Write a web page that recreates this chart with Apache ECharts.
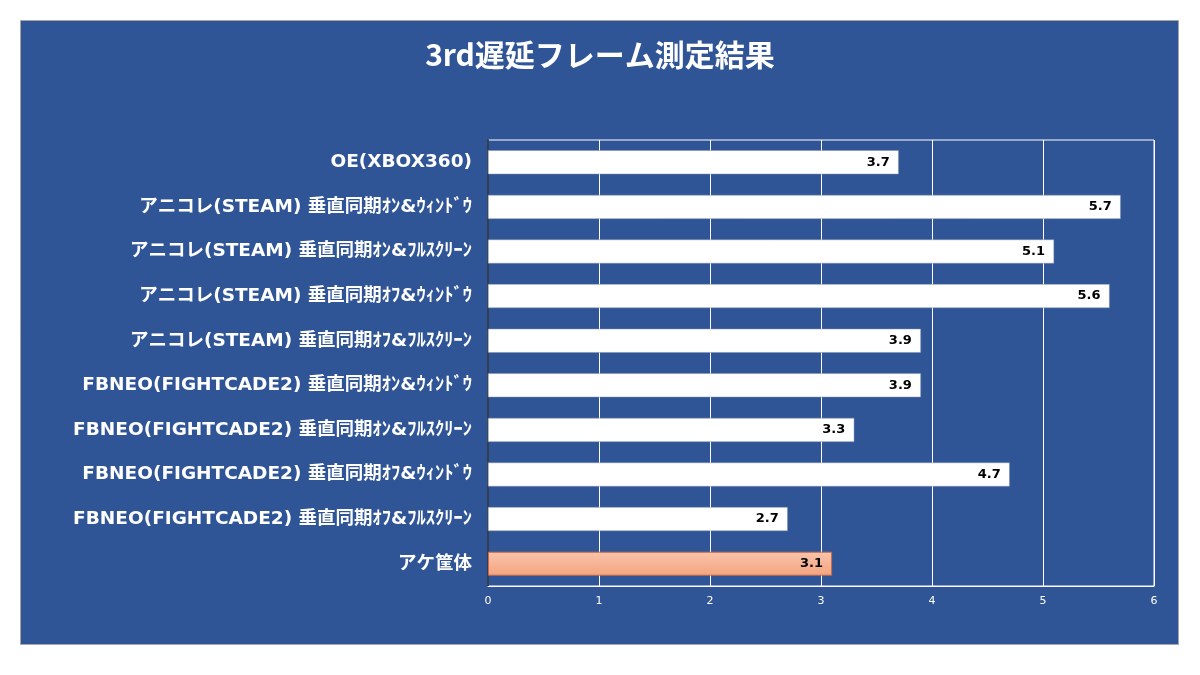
<!DOCTYPE html>
<html><head><meta charset="utf-8">
<script src="https://cdn.jsdelivr.net/npm/echarts@6/dist/echarts.min.js"></script>
<style>html,body{margin:0;padding:0;background:#fff}#c{width:1200px;height:675px}</style>
</head><body><div id="c"></div>
<script>
const titleText = '3rd遅延フレーム測定結果';
const categories = [
  'OE(XBOX360)',
  'アニコレ(STEAM) 垂直同期ｵﾝ&ｳｨﾝﾄﾞｳ',
  'アニコレ(STEAM) 垂直同期ｵﾝ&ﾌﾙｽｸﾘｰﾝ',
  'アニコレ(STEAM) 垂直同期ｵﾌ&ｳｨﾝﾄﾞｳ',
  'アニコレ(STEAM) 垂直同期ｵﾌ&ﾌﾙｽｸﾘｰﾝ',
  'FBNEO(FIGHTCADE2) 垂直同期ｵﾝ&ｳｨﾝﾄﾞｳ',
  'FBNEO(FIGHTCADE2) 垂直同期ｵﾝ&ﾌﾙｽｸﾘｰﾝ',
  'FBNEO(FIGHTCADE2) 垂直同期ｵﾌ&ｳｨﾝﾄﾞｳ',
  'FBNEO(FIGHTCADE2) 垂直同期ｵﾌ&ﾌﾙｽｸﾘｰﾝ',
  'アケ筐体'
];
const values = [3.7, 5.7, 5.1, 5.6, 3.9, 3.9, 3.3, 4.7, 2.7, 3.1];
const highlightIndex = 9;
const xTicks = [0, 1, 2, 3, 4, 5, 6];

const font = '"Noto Sans CJK JP", "Noto Sans", sans-serif';
const wideFont = '"DejaVu Sans", "Noto Sans CJK JP", sans-serif';
const chart = echarts.init(document.getElementById('c'));
const seriesData = values.map((v, i) => i === highlightIndex ? {
  value: v,
  itemStyle: {
    color: new echarts.graphic.LinearGradient(0, 0, 0, 1, [
      {offset: 0, color: '#F9C4AC'}, {offset: 1, color: '#F4A47F'}
    ]),
    borderColor: '#C46A4E', borderWidth: 1
  }
} : v);
chart.setOption({
  animation: false,
  textStyle: {fontFamily: font},
  graphic: [{
    type: 'rect', z: -10, silent: true,
    shape: {x: 20.5, y: 20.5, width: 1158, height: 624},
    style: {fill: '#2F5597', stroke: '#A6A6A6', lineWidth: 1}
  }],
  title: {
    text: titleText, left: 'center', top: 35,
    textStyle: {color: '#fff', fontSize: 30, fontWeight: 'bold', fontFamily: font}
  },
  grid: {left: 488, right: 46, top: 140, bottom: 89, show: true, borderColor: '#fff', borderWidth: 1, backgroundColor: 'transparent'},
  xAxis: {
    type: 'value', min: xTicks[0], max: xTicks[xTicks.length - 1], interval: 1,
    axisLine: {show: true, lineStyle: {color: '#fff', width: 1}},
    axisTick: {show: false},
    axisLabel: {color: '#fff', fontSize: 11, margin: 10, fontFamily: wideFont},
    splitLine: {show: true, lineStyle: {color: '#fff', width: 1}}
  },
  yAxis: {
    type: 'category', data: categories, inverse: true,
    axisLine: {show: true, lineStyle: {color: '#333F50', width: 2}},
    axisTick: {show: false},
    axisLabel: {color: '#fff', fontSize: 18.5, fontWeight: 'bold', margin: 16, fontFamily: wideFont}
  },
  series: [{
    type: 'bar', data: seriesData, barWidth: 24,
    itemStyle: {color: '#fff', borderColor: '#7F8FA9', borderWidth: 0.5},
    label: {
      show: true, position: 'insideRight', distance: 9,
      color: '#000', fontSize: 13, fontWeight: 'bold', fontFamily: wideFont,
      formatter: p => p.value.toFixed(1)
    }
  }]
});
</script></body></html>
